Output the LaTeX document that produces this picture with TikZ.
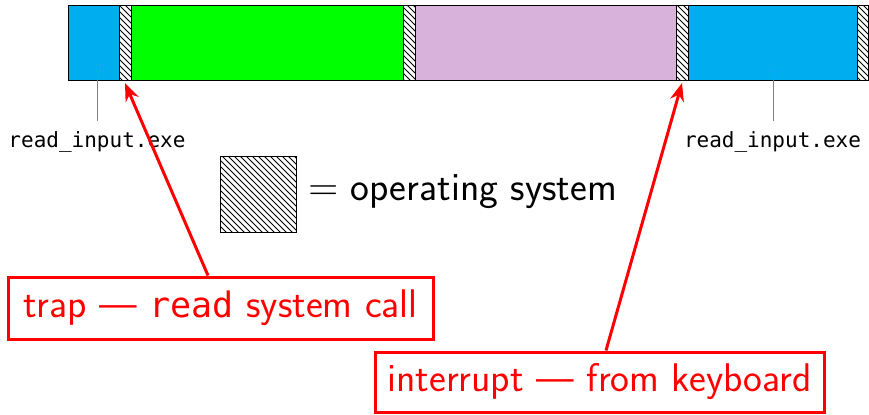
\documentclass[tikz,border=0pt]{standalone}
\usepackage{fontspec}
\setmonofont{DejaVu Sans Mono}
\usetikzlibrary{patterns,arrows.meta}
\definecolor{pblue}{RGB}{0,174,239}
\definecolor{pgreen}{RGB}{0,255,0}
\definecolor{ppurple}{RGB}{216,178,218}
\definecolor{pred}{RGB}{255,0,0}
\begin{document}
\begin{tikzpicture}[x=0.5pt,y=-0.5pt,
  seg/.style={draw=black,line width=0.5pt,inner sep=0pt,outer sep=0pt,minimum height=37.5pt},
  hatch/.style={seg,preaction={fill=white},pattern=north west lines},
  lbl/.style={font=\fontsize{10.5}{12}\selectfont\ttfamily,inner sep=0pt},
  lblline/.style={draw=gray,line width=0.4pt},
  bigtext/.style={font=\sffamily\fontsize{20}{24}\selectfont},
  redbox/.style={bigtext,draw=pred,line width=1.5pt,text=pred,inner sep=0pt},
  arr/.style={draw=pred,line width=1.5pt,-{Stealth[length=9pt,width=7pt]}}]
\useasboundingbox (0,0) rectangle (869,414);
% bar
\node[seg,fill=pblue,minimum width=25.5pt] (b1) at (93.5,42.5) {};
\node[hatch,minimum width=6pt] (h1) at (125,42.5) {};
\node[seg,fill=pgreen,minimum width=136pt] (g) at (267,42.5) {};
\node[hatch,minimum width=6pt] (h2) at (409,42.5) {};
\node[seg,fill=ppurple,minimum width=130.5pt] (p) at (545.5,42.5) {};
\node[hatch,minimum width=6pt] (h3) at (682,42.5) {};
\node[seg,fill=pblue,minimum width=84.5pt] (b2) at (772.5,42.5) {};
\node[hatch,minimum width=5.5pt] (h4) at (862.5,42.5) {};
% labels
\node[lbl] (l1) at (97,142) {read\_input.exe};
\node[lbl] (l2) at (772.5,142) {read\_input.exe};
\coordinate (c1) at (97,70);
\coordinate (c2) at (773,69);
\draw[lblline] (c1) -- ([yshift=5pt]l1.north -| c1);
\draw[lblline] (c2) -- ([yshift=5pt]l2.north -| c2);
% legend
\node[draw=black,line width=0.5pt,pattern=north west lines,minimum width=38pt,minimum height=38pt,inner sep=0pt] (leg) at (258,194) {};
\node[bigtext,anchor=west,inner sep=0pt] (legt) at (308,192) {$=$ operating system};
% boxes
\node[redbox,minimum width=212.5pt,minimum height=31pt] (trap) at (220.5,308) {trap --- {\ttfamily\fontsize{17.5}{24}\selectfont read} system call};
\node[redbox,minimum width=224.5pt,minimum height=30pt] (intr) at (599.5,382) {interrupt --- from keyboard};
\draw[arr] ([xshift=-6.25pt]trap.north) -- ([yshift=-1.5pt]h1.south);
\draw[arr] ([xshift=3.25pt]intr.north) -- ([yshift=-1.5pt]h3.south);
\end{tikzpicture}
\end{document}
